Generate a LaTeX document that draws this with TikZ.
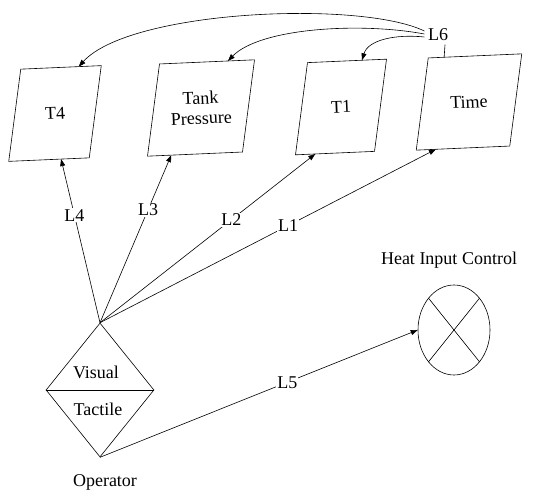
\documentclass[tikz,border=0pt]{standalone}
\usepackage{fontspec}
\setmainfont{Liberation Serif}
\usetikzlibrary{shapes.geometric,arrows.meta,calc}
\begin{document}
\begin{tikzpicture}[x=1pt,y=-1pt,line width=0.6pt,
  every node/.style={font=\fontsize{18}{20}\selectfont},
  box/.style={rectangle, minimum height=91pt, inner sep=0pt, align=center, rotate=2.5},
  conn/.style={-{Triangle[length=7pt,width=5pt]}},
  lab/.style={fill=white, inner sep=1pt},
]
\useasboundingbox (0,0) rectangle (535,497);

% boxes (text nodes; outlines drawn as parallelograms below)
\node[box, minimum width=80pt]   (T4) at (55,113.5) {T4};
\node[box, minimum width=94.5pt] (TP) at (201,108) {Tank\\Pressure};
\node[box, minimum width=78.5pt] (T1) at (341,107) {T1};
\node[box, minimum width=93pt]   (TM) at (469,102) {Time};
\foreach \n in {T4,TP,T1,TM}{
  \coordinate (\n-tl) at ($(\n.north west)!8pt!(\n.north east)$);
  \coordinate (\n-tr) at ($(\n.north east)!-8pt!(\n.north west)$);
  \coordinate (\n-br) at ($(\n.south east)!8pt!(\n.south west)$);
  \coordinate (\n-bl) at ($(\n.south west)!-8pt!(\n.south east)$);
  \draw (\n-tl) -- (\n-tr) -- (\n-br) -- (\n-bl) -- cycle;
}

% operator diamond
\node[draw, diamond, minimum width=108pt, minimum height=134pt, inner sep=0pt] (op) at (100,390) {};
\draw (op.west) -- (op.east);
\node (vis) at (96,372) {Visual};
\node (tac) at (98,409) {Tactile};
\node (opl) at (105,482) {Operator};

% heat input control
\node[draw, ellipse, minimum width=72pt, minimum height=90pt, inner sep=0pt] (H) at (454,330) {};
\draw (H.north west) -- (H.south east);
\draw (H.north east) -- (H.south west);
\node (hl) at (449,260) {Heat Input Control};

% L6
\node (L6) at (438,35) {L6};

% connectors from operator
\draw[conn] (op.north) -- node[lab,pos=0.656] {L4} ($(T4-bl)!0.65!(T4-br)$);
\draw[conn] (op.north) -- node[lab,pos=0.675] {L3} ($(TP-bl)!0.25!(TP-br)$);
\draw[conn] (op.north) -- node[lab,pos=0.61] {L2} ($(T1-bl)!0.25!(T1-br)$);
\draw[conn] (op.north) -- node[lab,pos=0.56] {L1} ($(TM-bl)!0.21!(TM-br)$);
\draw[conn] (op.south) -- node[lab,pos=0.59] {L5} (H.west);

% L6 curves
\draw[conn] ($(L6.west)+(0,-4)$) .. controls (360,0) and (130,10) .. ($(T4-tl)!0.72!(T4-tr)$);
\draw[conn] ($(L6.west)+(0,-1)$) .. controls (360,22) and (260,28) .. ($(TP-tl)!0.72!(TP-tr)$);
\draw[conn] ($(L6.west)+(0,2)$) .. controls (395,34) and (368,40) .. ($(T1-tl)!0.69!(T1-tr)$);
\draw ($(L6.south)+(7,0)$) -- ($(TM-tl)!0.17!(TM-tr)$);
\end{tikzpicture}
\end{document}
